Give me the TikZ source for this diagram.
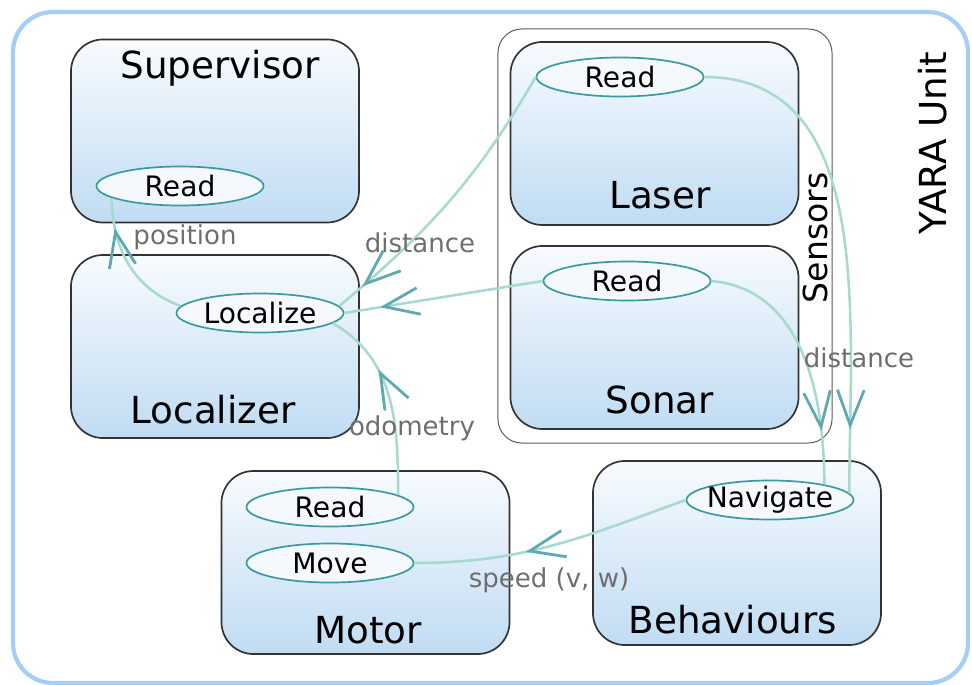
\documentclass[tikz,border=0pt]{standalone}
\usepackage{fontspec}
\setmainfont{DejaVu Sans}
\usetikzlibrary{shapes.geometric,arrows.meta,decorations.markings}

\definecolor{boxtop}{HTML}{F8FBFE}
\definecolor{boxbot}{HTML}{C0DCF3}
\definecolor{taskline}{HTML}{3A9AA2}
\definecolor{taskfill}{HTML}{F5F8FC}
\definecolor{flowcol}{HTML}{A6D9CF}
\definecolor{tipcol}{HTML}{5FA9B1}
\definecolor{framecol}{HTML}{A4CEF4}
\definecolor{lblcol}{HTML}{6E6E6E}

\tikzset{
  module/.style={draw=black!80, line width=1.2pt, rounded corners=0.8cm,
    top color=boxtop, bottom color=boxbot, minimum width=7.2cm, minimum height=4.575cm},
  task/.style={ellipse, draw=taskline, fill=taskfill, line width=1.2pt, inner sep=0pt,
    minimum width=4.175cm, minimum height=0.975cm, font=\fontsize{20}{22}\selectfont},
  title/.style={font=\fontsize{26.5}{30}\selectfont},
  flow/.style={draw=flowcol, line width=1.8pt},
  tipat/.style={decoration={markings, mark=at position #1 with
    {\arrow{Straight Barb[length=25pt, width=19pt, line width=2pt, color=tipcol]}}},
    postaction={decorate}},
  lbl/.style={text=lblcol, font=\fontsize{18.5}{20}\selectfont}
}

\begin{document}
\begin{tikzpicture}[x=0.025cm, y=0.025cm]
  \useasboundingbox (0,0) rectangle (972,-684);
  \draw[draw=framecol, line width=3pt, rounded corners=1cm] (13,-12) rectangle (968,-683);
  \node[title, rotate=90] (unit) at (933,-143) {YARA Unit};

  % sensors group
  \node[draw=black!65, line width=0.7pt, rounded corners=0.6cm,
    minimum width=8.35cm, minimum height=10.35cm] (sensors) at (665,-236) {};
  \node[rotate=90, font=\fontsize{23.5}{26}\selectfont] (senstitle) at (815,-238) {Sensors};

  \node[module] (las) at (654.5,-133.5) {};
  \node[title] (lastitle) at (660,-195) {Laser};
  \node[task] (lasrd) at (620,-77) {Read};

  \node[module] (son) at (654.5,-337.5) {};
  \node[title] (sontitle) at (660,-400) {Sonar};
  \node[task] (sonrd) at (627,-281) {Read};

  % other modules
  \node[module] (sup) at (215,-131) {};
  \node[title] (suptitle) at (220,-68) {Supervisor};
  \node[task] (suprd) at (180,-186) {Read};

  \node[module] (loc) at (215,-346.5) {};
  \node[title] (loctitle) at (213,-410) {Localizer};
  \node[task] (locz) at (260,-313) {Localize};

  \node[module] (mot) at (365.5,-562.5) {};
  \node[title] (mottitle) at (368,-630) {Motor};
  \node[task] (motrd) at (330,-507) {Read};
  \node[task] (move) at (330,-563) {Move};

  \node[module, minimum height=4.6cm] (beh) at (737,-553) {};
  \node[title] (behtitle) at (733,-620) {Behaviours};
  \node[task, inner xsep=-4pt] (nav) at (770,-500) {Navigate};

  % data flows
  \draw[flow, tipat=0.78] (locz.175) to[out=160, in=-90] (suprd.190);
  \draw[flow, tipat=0.9] (lasrd.west) to[out=240, in=40] (locz.5);
  \draw[flow, tipat=0.82] (sonrd.west) -- (locz.east);
  \draw[flow, tipat=0.66] (motrd.10) to[out=90, in=-30] (locz.-8);
  \draw[flow, tipat=0.87] (lasrd.east) to[out=0, in=90] (nav.5);
  \draw[flow, tipat=0.79] (sonrd.east) to[out=-5, in=90] (nav.16);
  \draw[flow, tipat=0.6] (nav.west) to[out=200, in=0] (move.east);

  % labels
  \node[lbl] (poslbl) at (185,-237) {position};
  \node[lbl] (laslbl) at (420,-243) {distance};
  \node[lbl] (odolbl) at (412,-428) {odometry};
  \node[lbl] (sonlbl) at (859,-358) {distance};
  \node[lbl] (spdlbl) at (549,-580) {speed (v, w)};
\end{tikzpicture}
\end{document}
